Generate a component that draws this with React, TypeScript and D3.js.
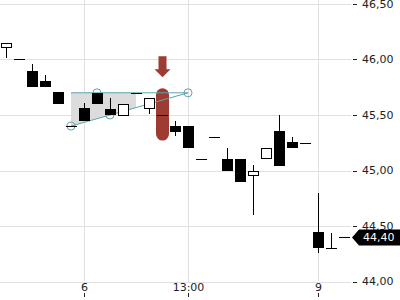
import React from "react";
import * as d3 from "d3";

const opens = [46.10, 46.00, 45.90, 45.81, 45.71, 45.40, 45.56, 45.70, 45.55, 45.49, 45.70, 45.55, 45.50, 45.40, 45.40, 45.10, 45.30, 45.10, 45.10, 44.95, 45.10, 45.36, 45.26, 45.25, 44.45, 44.30, 44.40];
const highs = [46.15, 46.00, 45.96, 45.86, 45.71, 45.40, 45.61, 45.70, 45.65, 45.60, 45.70, 45.65, 45.50, 45.45, 45.40, 45.10, 45.30, 45.20, 45.10, 45.05, 45.20, 45.50, 45.30, 45.25, 44.80, 44.44, 44.40];
const lows = [46.01, 46.00, 45.75, 45.75, 45.60, 45.40, 45.45, 45.60, 45.50, 45.49, 45.70, 45.51, 45.50, 45.31, 45.20, 45.10, 45.30, 45.00, 44.90, 44.60, 45.10, 45.04, 45.20, 45.25, 44.26, 44.30, 44.40];
const closes = [46.15, 46.00, 45.75, 45.75, 45.60, 45.40, 45.45, 45.60, 45.50, 45.60, 45.70, 45.65, 45.50, 45.35, 45.20, 45.10, 45.30, 45.00, 44.90, 45.00, 45.20, 45.04, 45.20, 45.25, 44.30, 44.30, 44.40];

const yTicks = [44.0, 44.5, 45.0, 45.5, 46.0, 46.5];
const xTickIndex = [6, 14, 24];
const xTickLabels = ["6", "13:00", "9"];
const lastPrice = 44.40;

// annotation (index, price)
const channelTop = [[5, 45.70], [14, 45.70]];
const channelSlant = [[5, 45.40], [14, 45.70]];
const channelPoints = [[5, 45.40], [7, 45.70], [8, 45.50], [14, 45.70]];
const shadeRange = [5, 10];
const highlightIndex = 12;
const highlightPrices = [45.27, 45.74];
const arrowPrices = [46.03, 45.84];

const W = 400, H = 300;
const plotRight = 351;

export default function App() {
  const n = opens.length;
  const x = (i: number) => d3.scaleLinear().domain([0, 26]).range([6, 344])(i);
  const y = d3.scaleLinear().domain([44, 46.5]).range([281.5, 4]);
  const teal = "#5da5ab";
  const red = "#9e3b33";
  const font = "DejaVu Sans, sans-serif";

  const slantY = (i: number) => {
    const [[i0, p0], [i1, p1]] = channelSlant;
    return p0 + ((i - i0) / (i1 - i0)) * (p1 - p0);
  };
  const shade = [
    [x(shadeRange[0]), y(channelTop[0][1])],
    [x(shadeRange[1]), y(channelTop[0][1])],
    [x(shadeRange[1]), y(slantY(shadeRange[1]))],
    [x(shadeRange[0]), y(slantY(shadeRange[0]))],
  ];
  const line = d3.line<number[]>().x((d) => x(d[0])).y((d) => y(d[1]));

  const hx = x(highlightIndex);
  const hy0 = y(highlightPrices[1]);
  const hy1 = y(highlightPrices[0]);
  const ay0 = y(arrowPrices[0]);
  const ay1 = y(arrowPrices[1]);

  const lpY = Math.round(y(lastPrice)) + 0.5;

  return (
    <svg width={W} height={H} style={{ position: "absolute", left: 0, top: 0, background: "#fff" }}>
      {/* grid */}
      {yTicks.map((t) => (
        <line key={"gy" + t} x1={0} x2={plotRight} y1={Math.round(y(t)) + 0.5} y2={Math.round(y(t)) + 0.5} stroke="#e0e0e0" />
      ))}
      {xTickIndex.map((i) => (
        <line key={"gx" + i} x1={x(i) + 0.5} x2={x(i) + 0.5} y1={0} y2={y(44)} stroke="#e0e0e0" />
      ))}

      {/* highlight */}
      <rect x={hx - 6} y={hy0} width={13} height={hy1 - hy0} rx={6.5} fill={red} />
      <path
        d={`M${hx - 3.5},${ay0} L${hx + 4.5},${ay0} L${hx + 4.5},${ay1 - 8} L${hx + 8.5},${ay1 - 8} L${hx + 0.5},${ay1} L${hx - 7.5},${ay1 - 8} L${hx - 3.5},${ay1 - 8} Z`}
        fill={red}
      />

      {/* channel */}
      <polygon points={shade.map((p) => p.join(",")).join(" ")} fill="#dcdcdc" />
      <path d={line(channelTop as number[][]) || ""} stroke={teal} fill="none" strokeWidth={1} />
      <path d={line(channelSlant as number[][]) || ""} stroke={teal} fill="none" strokeWidth={1} />
      {channelPoints.map((p, k) => (
        <circle key={"c" + k} cx={x(p[0])} cy={y(p[1])} r={4} fill="none" stroke={teal} strokeWidth={1} />
      ))}

      {/* candles */}
      {d3.range(n).map((i) => {
        const cx = x(i);
        const o = opens[i], c = closes[i], h = highs[i], l = lows[i];
        const top = Math.round(y(Math.max(o, c)));
        const bot = Math.round(y(Math.min(o, c)));
        const wick = (
          <line x1={cx + 0.5} x2={cx + 0.5} y1={Math.round(y(h))} y2={Math.round(y(l))} stroke="#000" />
        );
        if (bot - top < 2) {
          return (
            <g key={i}>
              {wick}
              <line x1={cx - 5} x2={cx + 6} y1={top + 0.5} y2={top + 0.5} stroke="#000" />
            </g>
          );
        }
        if (c < o) {
          return (
            <g key={i}>
              {wick}
              <rect x={cx - 5} y={top} width={11} height={bot - top} fill="#000" />
            </g>
          );
        }
        return (
          <g key={i}>
            {wick}
            <rect x={cx - 4.5} y={top + 0.5} width={10} height={bot - top - 1} fill="#fff" stroke="#000" />
          </g>
        );
      })}

      {/* right axis */}
      {yTicks.map((t) => (
        <g key={"ty" + t}>
          <line x1={353} x2={357} y1={Math.round(y(t)) + 0.5} y2={Math.round(y(t)) + 0.5} stroke="#222" />
          <text x={362} y={y(t)} dy="0.36em" fontSize={11} fontFamily={font} fill="#222">
            {t.toFixed(2).replace(".", ",")}
          </text>
        </g>
      ))}

      {/* bottom axis */}
      {xTickIndex.map((i, k) => (
        <g key={"tx" + i}>
          <text x={x(i) + 0.5} y={291} textAnchor="middle" fontSize={11} fontFamily={font} fill="#222">
            {xTickLabels[k]}
          </text>
          <line x1={x(i) + 0.5} x2={x(i) + 0.5} y1={293} y2={297} stroke="#222" />
        </g>
      ))}

      {/* last price label */}
      <path d={`M352,${lpY} L359,${lpY - 8} L400,${lpY - 8} L400,${lpY + 8} L359,${lpY + 8} Z`} fill="#000" />
      <text x={363} y={lpY} dy="0.36em" fontSize={11} fontFamily={font} fill="#fff">
        {lastPrice.toFixed(2).replace(".", ",")}
      </text>
    </svg>
  );
}
